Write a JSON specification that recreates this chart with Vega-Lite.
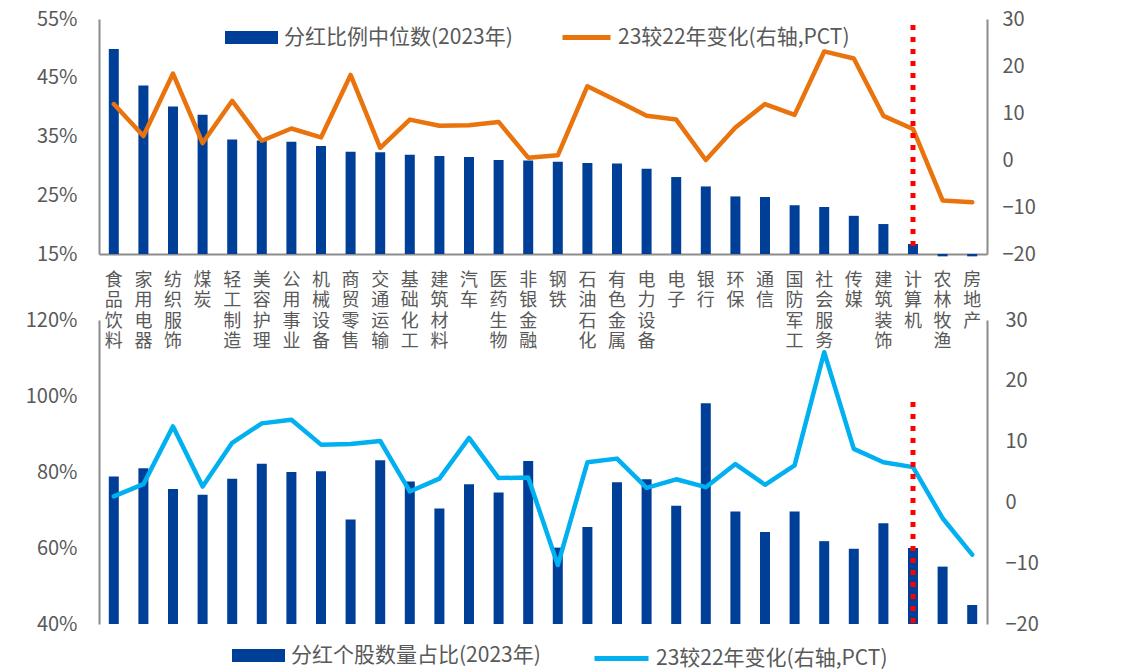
{
  "$schema": "https://vega.github.io/schema/vega-lite/v6.json",
  "padding": {"left": 25, "top": 9, "right": 5, "bottom": 0},
  "config": {
    "font": "Noto Sans CJK SC",
    "view": {"stroke": null},
    "axis": {"labelColor": "#595959", "labelFont": "Noto Sans CJK SC", "ticks": false, "grid": false, "domainColor": "#8C8C8C", "domainWidth": 2, "labelFlush": false, "labelOverlap": false, "title": null},
    "legend": {"labelFont": "Noto Sans CJK SC", "labelColor": "#595959", "labelFontSize": 21, "labelLimit": 500, "padding": 0, "title": null}
  },
  "data": {"values": [
    {"industry": "食品饮料", "payout": 0.499, "payout_chg": 11.9, "share": 0.788, "share_chg": 1.0},
    {"industry": "家用电器", "payout": 0.437, "payout_chg": 5.1, "share": 0.810, "share_chg": 3.0},
    {"industry": "纺织服饰", "payout": 0.401, "payout_chg": 18.4, "share": 0.755, "share_chg": 12.5},
    {"industry": "煤炭", "payout": 0.387, "payout_chg": 3.6, "share": 0.740, "share_chg": 2.6},
    {"industry": "轻工制造", "payout": 0.345, "payout_chg": 12.6, "share": 0.782, "share_chg": 9.8},
    {"industry": "美容护理", "payout": 0.343, "payout_chg": 4.1, "share": 0.822, "share_chg": 13.0},
    {"industry": "公用事业", "payout": 0.341, "payout_chg": 6.7, "share": 0.800, "share_chg": 13.6},
    {"industry": "机械设备", "payout": 0.334, "payout_chg": 4.8, "share": 0.802, "share_chg": 9.5},
    {"industry": "商贸零售", "payout": 0.324, "payout_chg": 18.1, "share": 0.675, "share_chg": 9.6},
    {"industry": "交通运输", "payout": 0.323, "payout_chg": 2.6, "share": 0.831, "share_chg": 10.1},
    {"industry": "基础化工", "payout": 0.319, "payout_chg": 8.6, "share": 0.775, "share_chg": 1.8},
    {"industry": "建筑材料", "payout": 0.317, "payout_chg": 7.3, "share": 0.704, "share_chg": 3.9},
    {"industry": "汽车", "payout": 0.315, "payout_chg": 7.4, "share": 0.768, "share_chg": 10.6},
    {"industry": "医药生物", "payout": 0.310, "payout_chg": 8.1, "share": 0.746, "share_chg": 4.0},
    {"industry": "非银金融", "payout": 0.309, "payout_chg": 0.5, "share": 0.829, "share_chg": 4.1},
    {"industry": "钢铁", "payout": 0.307, "payout_chg": 1.0, "share": 0.601, "share_chg": -10.3},
    {"industry": "石油石化", "payout": 0.305, "payout_chg": 15.7, "share": 0.655, "share_chg": 6.6},
    {"industry": "有色金属", "payout": 0.304, "payout_chg": 12.6, "share": 0.773, "share_chg": 7.2},
    {"industry": "电力设备", "payout": 0.295, "payout_chg": 9.4, "share": 0.781, "share_chg": 2.4},
    {"industry": "电子", "payout": 0.281, "payout_chg": 8.6, "share": 0.711, "share_chg": 3.8},
    {"industry": "银行", "payout": 0.265, "payout_chg": 0.0, "share": 0.981, "share_chg": 2.5},
    {"industry": "环保", "payout": 0.248, "payout_chg": 6.9, "share": 0.696, "share_chg": 6.3},
    {"industry": "通信", "payout": 0.247, "payout_chg": 11.9, "share": 0.642, "share_chg": 2.9},
    {"industry": "国防军工", "payout": 0.233, "payout_chg": 9.6, "share": 0.696, "share_chg": 6.1},
    {"industry": "社会服务", "payout": 0.230, "payout_chg": 23.1, "share": 0.618, "share_chg": 24.7},
    {"industry": "传媒", "payout": 0.215, "payout_chg": 21.6, "share": 0.598, "share_chg": 8.8},
    {"industry": "建筑装饰", "payout": 0.201, "payout_chg": 9.4, "share": 0.665, "share_chg": 6.6},
    {"industry": "计算机", "payout": 0.167, "payout_chg": 6.6, "share": 0.600, "share_chg": 5.8},
    {"industry": "农林牧渔", "payout": 0.146, "payout_chg": -8.6, "share": 0.551, "share_chg": -2.6},
    {"industry": "房地产", "payout": 0.146, "payout_chg": -9.0, "share": 0.450, "share_chg": -8.6}
  ]},
  "bounds": "flush",
  "spacing": 66,
  "resolve": {"scale": {"color": "independent", "stroke": "independent"}, "legend": {"color": "independent", "stroke": "independent"}},
  "vconcat": [
    {
      "width": 888,
      "height": 235,
      "encoding": {
        "x": {"field": "industry", "type": "nominal",
          "scale": {"domain": ["食品饮料","家用电器","纺织服饰","煤炭","轻工制造","美容护理","公用事业","机械设备","商贸零售","交通运输","基础化工","建筑材料","汽车","医药生物","非银金融","钢铁","石油石化","有色金属","电力设备","电子","银行","环保","通信","国防军工","社会服务","传媒","建筑装饰","计算机","农林牧渔","房地产"], "paddingInner": 0, "paddingOuter": 0},
          "axis": {"labelExpr": "split(datum.label, '')", "labelAngle": 0, "labelFontSize": 18, "labelLineHeight": 20.5, "labelBaseline": "top", "labelPadding": 17, "labelAlign": "center"}}
      },
      "layer": [
        {
          "mark": {"type": "bar", "width": 10},
          "encoding": {
            "y": {"field": "payout", "type": "quantitative", "scale": {"domain": [0.15, 0.55], "zero": false, "nice": false},
              "axis": {"orient": "left", "values": [0.15, 0.25, 0.35, 0.45, 0.55], "format": ".0%", "labelFontSize": 20, "labelPadding": 22}},
            "y2": {"datum": 0.15},
            "color": {"datum": "分红比例中位数(2023年)", "scale": {"range": ["#003F98"]},
              "legend": {"orient": "none", "legendX": 126, "legendY": -8, "symbolType": "M-1,-0.245H1V0.245H-1Z", "symbolSize": 2809, "symbolStrokeWidth": 0, "labelOffset": 6}}
          }
        },
        {
          "layer": [
            {
              "mark": {"type": "line", "strokeWidth": 4.5, "strokeJoin": "round", "strokeCap": "round"},
              "encoding": {
                "y": {"field": "payout_chg", "type": "quantitative", "scale": {"domain": [-20, 30], "nice": false, "zero": false},
                  "axis": {"orient": "right", "values": [-20, -10, 0, 10, 20, 30], "labelFontSize": 20, "labelPadding": 15}},
                "stroke": {"datum": "23较22年变化(右轴,PCT)", "scale": {"range": ["#E9730C"]},
                  "legend": {"orient": "none", "legendX": 461, "legendY": -8, "symbolType": "stroke", "symbolSize": 2304, "symbolStrokeWidth": 5, "labelOffset": 5}}
              }
            },
            {
              "transform": [{"filter": "datum.industry === '计算机'"}],
              "mark": {"type": "rule", "color": "#FF0000", "strokeWidth": 5, "strokeDash": [5, 7], "strokeCap": "butt"},
              "encoding": {
                "y": {"datum": 28.7, "type": "quantitative"},
                "y2": {"datum": -18.8}
              }
            }
          ]
        }
      ],
      "resolve": {"scale": {"y": "independent"}}
    },
    {
      "width": 888,
      "height": 304,
      "encoding": {
        "x": {"field": "industry", "type": "nominal",
          "scale": {"domain": ["食品饮料","家用电器","纺织服饰","煤炭","轻工制造","美容护理","公用事业","机械设备","商贸零售","交通运输","基础化工","建筑材料","汽车","医药生物","非银金融","钢铁","石油石化","有色金属","电力设备","电子","银行","环保","通信","国防军工","社会服务","传媒","建筑装饰","计算机","农林牧渔","房地产"], "paddingInner": 0, "paddingOuter": 0},
          "axis": null}
      },
      "layer": [
        {
          "mark": {"type": "bar", "width": 10},
          "encoding": {
            "y": {"field": "share", "type": "quantitative", "scale": {"domain": [0.4, 1.2], "zero": false, "nice": false},
              "axis": {"orient": "left", "values": [0.4, 0.6, 0.8, 1.0, 1.2], "format": ".0%", "labelFontSize": 20, "labelPadding": 22}},
            "y2": {"datum": 0.4},
            "color": {"datum": "分红个股数量占比(2023年)", "scale": {"range": ["#003F98"]},
              "legend": {"orient": "none", "legendX": 133, "legendY": 309, "symbolType": "M-1,-0.245H1V0.245H-1Z", "symbolSize": 2809, "symbolStrokeWidth": 0, "labelOffset": 6}}
          }
        },
        {
          "layer": [
            {
              "mark": {"type": "line", "strokeWidth": 4.5, "strokeJoin": "round", "strokeCap": "round"},
              "encoding": {
                "y": {"field": "share_chg", "type": "quantitative", "scale": {"domain": [-20, 30], "nice": false, "zero": false},
                  "axis": {"orient": "right", "values": [-20, -10, 0, 10, 20, 30], "labelFontSize": 20, "labelPadding": 18}},
                "stroke": {"datum": "23较22年变化(右轴,PCT)", "scale": {"range": ["#00B0F0"]},
                  "legend": {"orient": "none", "legendX": 493, "legendY": 309, "symbolType": "stroke", "symbolSize": 2916, "symbolStrokeWidth": 5, "labelOffset": 5}}
              }
            },
            {
              "transform": [{"filter": "datum.industry === '计算机'"}],
              "mark": {"type": "rule", "color": "#FF0000", "strokeWidth": 5, "strokeDash": [5, 7], "strokeCap": "butt"},
              "encoding": {
                "y": {"datum": 16.5, "type": "quantitative"},
                "y2": {"datum": -20}
              }
            }
          ]
        }
      ],
      "resolve": {"scale": {"y": "independent"}}
    }
  ]
}
